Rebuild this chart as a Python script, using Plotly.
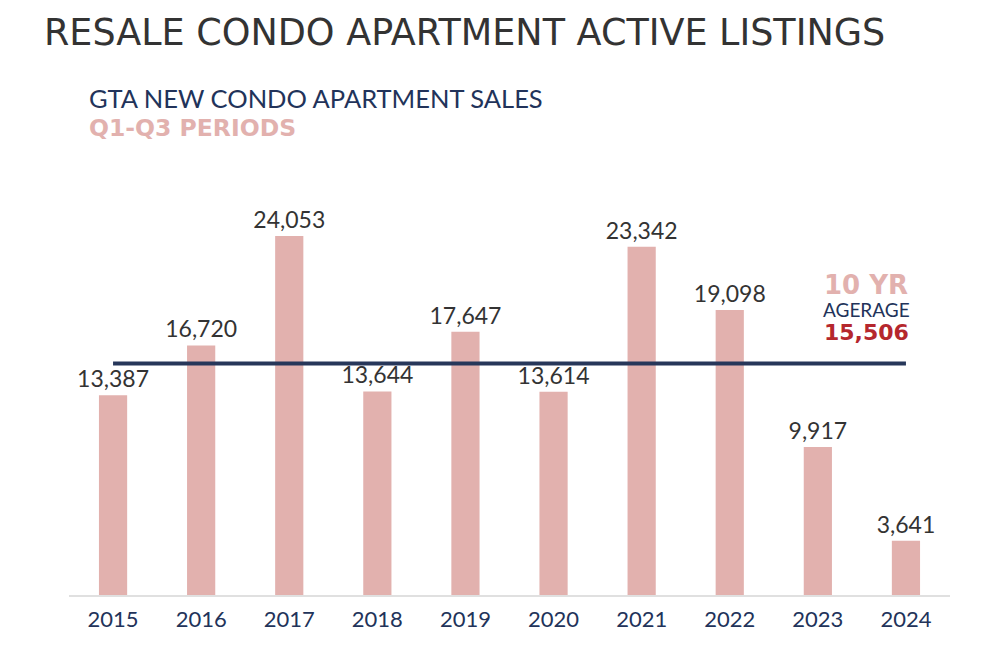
import plotly.graph_objects as go

years = ["2015", "2016", "2017", "2018", "2019", "2020", "2021", "2022", "2023", "2024"]
sales = [13387, 16720, 24053, 13644, 17647, 13614, 23342, 19098, 9917, 3641]
average = 15506

bar_color = "#e2b1ae"
navy = "#22335a"

# The page has an 8px body margin; offset everything by it
OFF = 8
W, H = 993, 663
l, r, t, b = 69 - OFF, 43 + OFF, 207 - OFF, 68 + OFF
pw, ph = W - l - r, H - t - b

fig = go.Figure()
fig.add_trace(go.Bar(
    x=years, y=sales,
    marker=dict(color=bar_color, line=dict(width=0)),
    width=0.32,
    text=[f"{v:,}" for v in sales],
    textposition="outside",
    constraintext="none",
    textfont=dict(family="Lato", size=23, color="#333333"),
    cliponaxis=False,
    hoverinfo="skip",
))
fig.add_trace(go.Scatter(
    x=years, y=[average] * len(years),
    mode="lines",
    line=dict(color="#27375a", width=4),
    hoverinfo="skip",
))

def px(xp, yp):
    return (xp - OFF - l) / pw, (H - b - (yp - OFF)) / ph

annos = [
    ("RESALE CONDO APARTMENT ACTIVE LISTINGS", 42, 32, "left", dict(family="DejaVu Sans", size=36.5, color="#333333")),
    ("GTA NEW CONDO APARTMENT SALES", 87, 98, "left", dict(family="Lato", size=25.5, color=navy)),
    ("<b>Q1-Q3 PERIODS</b>", 87, 128, "left", dict(family="DejaVu Sans", size=23.5, color=bar_color)),
    ("<b>10 YR</b>", 866, 285, "center", dict(family="DejaVu Sans", size=26, color=bar_color)),
    ("AGERAGE", 866, 309, "center", dict(family="Lato", size=19, color=navy)),
    ("<b>15,506</b>", 866, 332, "center", dict(family="DejaVu Sans", size=22, color="#b5272d")),
]
annotations = []
for text, xp, yp, anchor, font in annos:
    ax, ay = px(xp, yp)
    annotations.append(dict(text=text, xref="paper", yref="paper", x=ax, y=ay,
                            xanchor=anchor, yanchor="middle", showarrow=False, font=font))

fig.update_layout(
    width=W, height=H,
    margin=dict(l=l, r=r, t=t, b=b),
    paper_bgcolor="white", plot_bgcolor="white",
    showlegend=False,
    xaxis=dict(
        showline=True, linecolor="#e0e0e0", linewidth=2,
        ticks="", showgrid=False, ticklabelstandoff=4,
        tickfont=dict(family="Lato", size=22, color=navy),
    ),
    yaxis=dict(range=[0, 26000], visible=False, showgrid=False),
    annotations=annotations,
)

fig.write_html("out.html")
